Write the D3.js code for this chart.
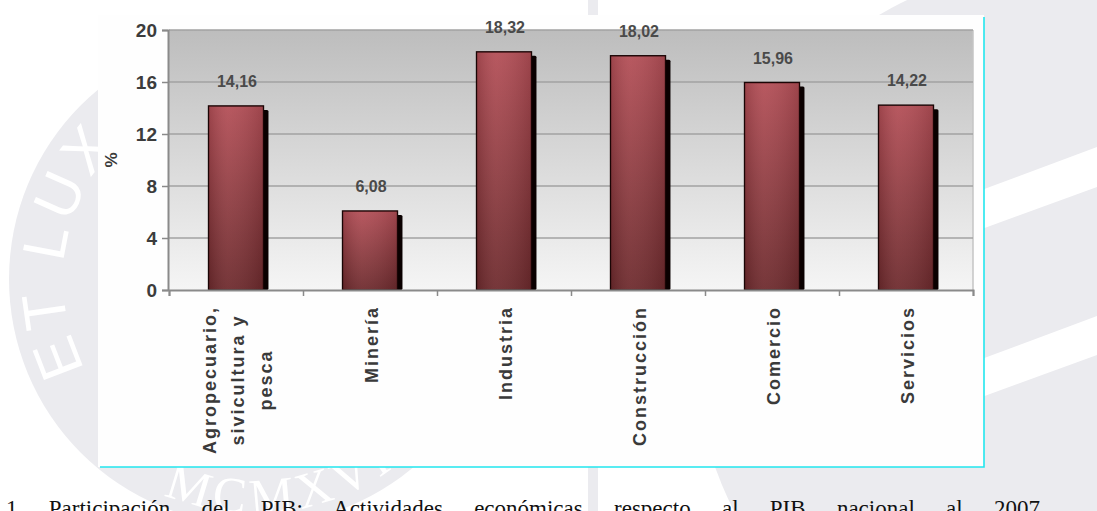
<!DOCTYPE html>
<html>
<head>
<meta charset="utf-8">
<script src="https://cdn.jsdelivr.net/npm/d3@7/dist/d3.min.js"></script>
<style>
  html, body { margin: 0; padding: 0; background: #ffffff; }
  svg { display: block; }
</style>
</head>
<body>
<svg id="chart" width="1097" height="511"></svg>
<script>
// Participación por actividad económica (%)
const categories = [
  ["Agropecuario,", "sivicultura y", "pesca"],
  ["Minería"],
  ["Industria"],
  ["Construcción"],
  ["Comercio"],
  ["Servicios"]
];
const values = [14.16, 6.08, 18.32, 18.02, 15.96, 14.22];
const valueLabels = ["14,16", "6,08", "18,32", "18,02", "15,96", "14,22"];
const yTicks = [0, 4, 8, 12, 16, 20];
const yTitle = "%";
const caption = "1 Participación del PIB: Actividades económicas respecto al PIB nacional al 2007";

const W = 1097, H = 511;
const svg = d3.select("#chart");
const defs = svg.append("defs");
const sans = "Liberation Sans, Arial, sans-serif";

// ---- faint background seal ----
const wm = svg.append("g");
const wmGrey = "#ebebef";
const seal = {cx: 255, cy: 279, r: 246};
wm.append("circle").attr("cx", seal.cx).attr("cy", seal.cy).attr("r", seal.r).attr("fill", wmGrey);
// vertical bar of the emblem
wm.append("rect").attr("x", 588).attr("y", 0).attr("width", 10).attr("height", H).attr("fill", wmGrey);

// lettering around the seal rim
function arcPath(r, a0, a1) {
  const p0 = [seal.cx + r * Math.cos(a0), seal.cy + r * Math.sin(a0)];
  const p1 = [seal.cx + r * Math.cos(a1), seal.cy + r * Math.sin(a1)];
  const sweep = a1 > a0 ? 1 : 0;
  return `M ${p0[0]} ${p0[1]} A ${r} ${r} 0 0 ${sweep} ${p1[0]} ${p1[1]}`;
}
const deg = Math.PI / 180;
defs.append("path").attr("id", "rimLeft").attr("d", arcPath(192, 152 * deg, 250 * deg));
wm.append("text")
  .attr("font-family", sans).attr("font-size", 60).attr("fill", "#ffffff")
  .append("textPath").attr("href", "#rimLeft").attr("letter-spacing", 6)
  .text("ET LUX");
defs.append("path").attr("id", "rimBottom").attr("d", arcPath(234, 124 * deg, 36 * deg));
wm.append("text")
  .attr("font-family", "Liberation Serif, serif").attr("font-size", 50).attr("fill", "#ffffff")
  .append("textPath").attr("href", "#rimBottom").attr("startOffset", "50%")
  .attr("text-anchor", "middle").attr("letter-spacing", 6)
  .text("MCMXVII");

// right disc with pale diagonal bands
wm.append("circle").attr("cx", 1070).attr("cy", 340).attr("r", 377).attr("fill", wmGrey);
const stripes = [[188, 227], [357, 395]];
stripes.forEach(([t, b]) => {
  wm.append("polygon")
    .attr("points", `960,${t + 10} 1097,${t - 41} 1097,${b - 40} 960,${b + 10}`)
    .attr("fill", "#ffffff");
});

// ---- chart panel ----
const box = {x: 98, y: 15, w: 886, h: 452};
svg.append("rect").attr("x", box.x).attr("y", box.y).attr("width", box.w).attr("height", box.h)
  .attr("fill", "#fefefe");
svg.append("path")
  .attr("d", `M ${box.x + 2} ${box.y + box.h} H ${box.x + box.w} V ${box.y + 2}`)
  .attr("fill", "none").attr("stroke", "#22e6ee").attr("stroke-width", 1.6);

const plot = {left: 169, right: 973, top: 30, bottom: 290};

const x = d3.scaleBand().domain(d3.range(categories.length))
  .range([plot.left, plot.right]).paddingInner(0.59).paddingOuter(0.295);
const xEdge = d3.scaleLinear().domain([0, categories.length]).range([plot.left, plot.right]);
const y = d3.scaleLinear().domain([0, 20]).range([plot.bottom, plot.top]);

// plot area gradient
const bg = defs.append("linearGradient").attr("id", "plotBg")
  .attr("x1", 0).attr("y1", 0).attr("x2", 0).attr("y2", 1);
bg.append("stop").attr("offset", "0%").attr("stop-color", "#bdbdbd");
bg.append("stop").attr("offset", "100%").attr("stop-color", "#f5f5f5");
svg.append("rect")
  .attr("x", plot.left).attr("y", plot.top)
  .attr("width", plot.right - plot.left).attr("height", plot.bottom - plot.top)
  .attr("fill", "url(#plotBg)");
svg.append("line")
  .attr("x1", plot.right).attr("x2", plot.right).attr("y1", plot.top).attr("y2", plot.bottom)
  .attr("stroke", "#c4c4c4").attr("stroke-width", 1.5);

// gridlines
svg.append("g").selectAll("line").data(yTicks.filter(d => d > 0)).join("line")
  .attr("x1", plot.left).attr("x2", plot.right)
  .attr("y1", d => y(d)).attr("y2", d => y(d))
  .attr("stroke", "#a2a2a2").attr("stroke-width", 1.5);

// bar fills
const barGrad = defs.append("linearGradient").attr("id", "barFill")
  .attr("x1", 0).attr("y1", 0).attr("x2", 0).attr("y2", 1);
barGrad.append("stop").attr("offset", "0%").attr("stop-color", "#b34e56");
barGrad.append("stop").attr("offset", "55%").attr("stop-color", "#8c3b40");
barGrad.append("stop").attr("offset", "100%").attr("stop-color", "#6d2a2d");
const barSheen = defs.append("linearGradient").attr("id", "barSheen")
  .attr("x1", 0).attr("y1", 0).attr("x2", 1).attr("y2", 0);
barSheen.append("stop").attr("offset", "0%").attr("stop-color", "#000").attr("stop-opacity", 0.12);
barSheen.append("stop").attr("offset", "35%").attr("stop-color", "#fff").attr("stop-opacity", 0.06);
barSheen.append("stop").attr("offset", "100%").attr("stop-color", "#000").attr("stop-opacity", 0.12);

const bars = svg.append("g");
const shadowDx = 5, shadowDy = 4;
bars.selectAll("rect.shadow").data(values).join("rect")
  .attr("class", "shadow")
  .attr("x", (d, i) => x(i) + shadowDx)
  .attr("y", d => y(d) + shadowDy)
  .attr("width", x.bandwidth())
  .attr("height", d => y(0) - y(d) - shadowDy)
  .attr("rx", 1.5)
  .attr("fill", "#0a0000");
bars.selectAll("rect.bar").data(values).join("rect")
  .attr("class", "bar")
  .attr("x", (d, i) => x(i))
  .attr("y", d => y(d))
  .attr("width", x.bandwidth())
  .attr("height", d => y(0) - y(d))
  .attr("fill", "url(#barFill)")
  .attr("stroke", "#1a0505").attr("stroke-width", 1.4);
bars.selectAll("rect.sheen").data(values).join("rect")
  .attr("class", "sheen")
  .attr("x", (d, i) => x(i) + 1)
  .attr("y", d => y(d) + 1)
  .attr("width", x.bandwidth() - 2)
  .attr("height", d => y(0) - y(d) - 1)
  .attr("fill", "url(#barSheen)");

// value labels
svg.append("g").selectAll("text").data(values).join("text")
  .attr("x", (d, i) => x(i) + x.bandwidth() / 2 + 1)
  .attr("y", d => y(d) - 19)
  .attr("text-anchor", "middle")
  .attr("font-family", sans)
  .attr("font-weight", "bold").attr("font-size", 16)
  .attr("fill", "#4a4a4a")
  .text((d, i) => valueLabels[i]);

// y axis
const yAxis = svg.append("g")
  .attr("transform", `translate(${plot.left - 1},0)`)
  .call(d3.axisLeft(y).tickValues(yTicks).tickSize(6).tickPadding(5));
yAxis.select(".domain").attr("stroke", "#8a8a8a").attr("stroke-width", 2);
yAxis.selectAll(".tick line").attr("stroke", "#8a8a8a").attr("stroke-width", 1.5);
yAxis.selectAll(".tick text")
  .attr("font-family", sans)
  .attr("font-weight", "bold").attr("font-size", 19).attr("fill", "#3c3c3c");

// x axis line and category ticks
const xAxis = svg.append("g")
  .attr("transform", `translate(0,${plot.bottom})`)
  .call(d3.axisBottom(xEdge).tickValues(d3.range(categories.length + 1)).tickSize(6).tickFormat(""));
xAxis.select(".domain").attr("stroke", "#8a8a8a").attr("stroke-width", 2);
xAxis.selectAll(".tick line").attr("stroke", "#8a8a8a").attr("stroke-width", 1.5);

// rotated category labels: block hangs from just under the axis, lines centred within it
const labelTop = 306, lineGap = 28;
const catG = svg.append("g").selectAll("text").data(categories).join("text")
  .attr("font-family", sans)
  .attr("font-weight", "bold").attr("font-size", 18)
  .attr("letter-spacing", 2)
  .attr("fill", "#3a3a3a")
  .attr("text-anchor", "middle");
catG.selectAll("tspan").data(d => d).join("tspan")
  .attr("x", 0)
  .attr("dy", (d, j, nodes) => j === 0 ? (6 - (nodes.length - 1) * lineGap / 2) : lineGap)
  .text(d => d);
catG.each(function (d, i) {
  const lens = [];
  d3.select(this).selectAll("tspan").each(function () { lens.push(this.getComputedTextLength()); });
  const maxLen = d3.max(lens);
  d3.select(this)
    .attr("transform", `translate(${x(i) + x.bandwidth() / 2 + 2},${labelTop + maxLen / 2}) rotate(-90)`);
});

// y title
svg.append("text")
  .attr("transform", "translate(117,160) rotate(-90)")
  .attr("text-anchor", "middle")
  .attr("font-family", sans)
  .attr("font-weight", "bold").attr("font-size", 17)
  .attr("fill", "#3a3a3a")
  .text(yTitle);

// caption below the panel, justified across the line
const capLeft = 6, capRight = 1040;
const cap = svg.append("text")
  .attr("x", capLeft).attr("y", 516)
  .attr("font-family", "Liberation Serif, Times New Roman, serif")
  .attr("font-size", 23).attr("fill", "#111")
  .text(caption);
const capLen = cap.node().getComputedTextLength();
const gaps = caption.split(" ").length - 1;
cap.attr("word-spacing", Math.max(0, (capRight - capLeft - capLen) / gaps));
</script>
</body>
</html>
